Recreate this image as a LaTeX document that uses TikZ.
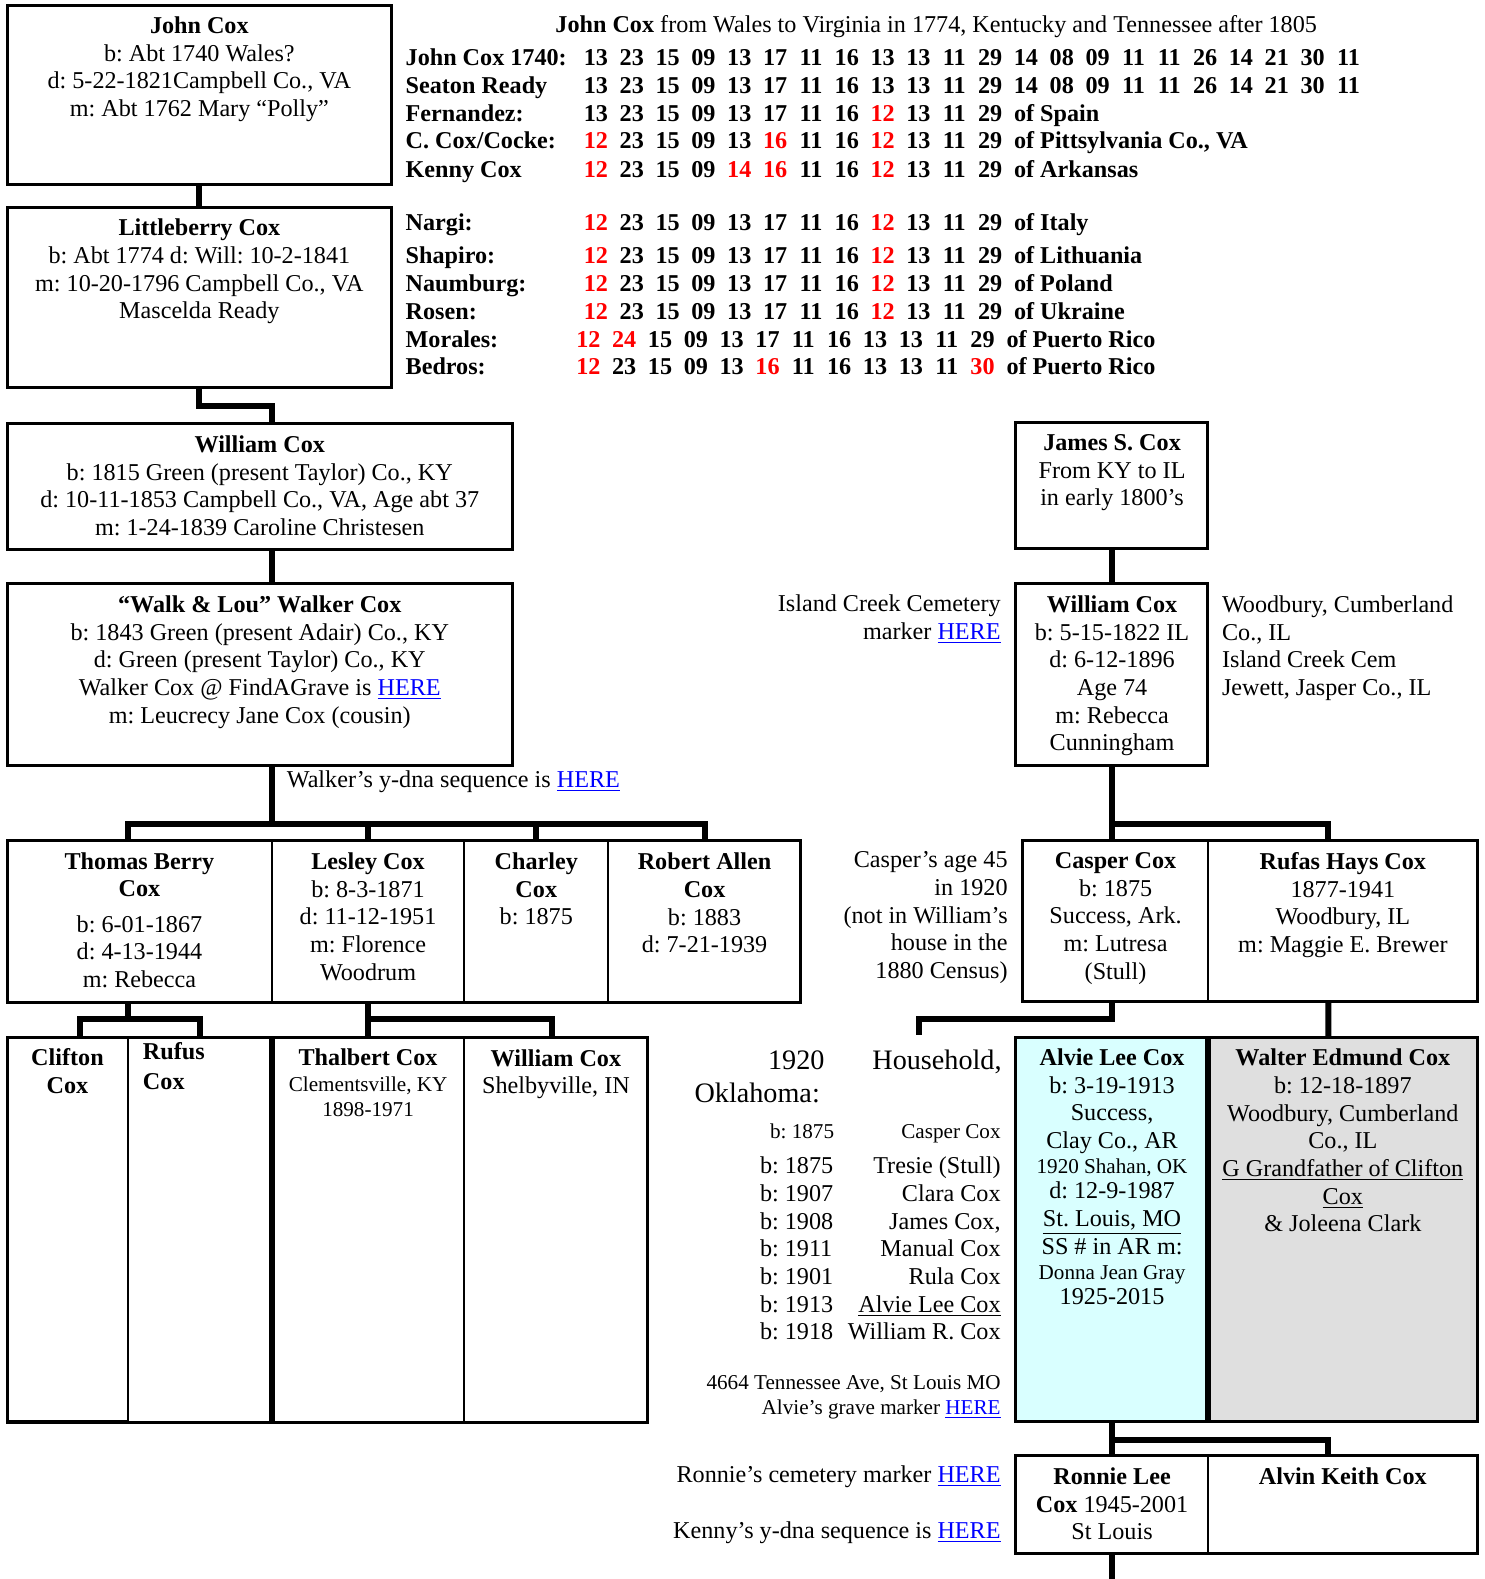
\documentclass[tikz,border=0pt]{standalone}
\usepackage{fontspec}
\setmainfont{Liberation Serif}
\definecolor{alviecyan}{HTML}{D9FFFF}
\definecolor{waltergray}{HTML}{DFDFDF}
\frenchspacing

\begin{document}
\begin{tikzpicture}[x=0.5pt,y=-0.5pt,scale=1.0066,
  every node/.style={transform shape,inner sep=0pt,outer sep=0pt,font=\fontsize{12}{13.75}\selectfont},
  box/.style={draw,line width=1.5pt,anchor=north west},
  cell/.style={draw,line width=1pt,anchor=north west},
  frame/.style={line width=1.5pt},
  link/.style={line width=3pt},
  who/.style={anchor=north,align=center},
  note/.style={anchor=base east,align=right},
  dna/.style={anchor=base west,font=\fontsize{12}{13.75}\selectfont\bfseries}]

\useasboundingbox (0,0) rectangle (1474.3,1568.6);

\newcommand{\here}{\textcolor{blue}{\underline{HERE}}}
\newcommand{\smallf}{\fontsize{10.5}{12.5}\selectfont}
\newcommand{\nn}[1]{\makebox[17.8pt]{#1}}
\newcommand{\rn}[1]{\makebox[17.8pt]{\color{red}#1}}

% y-dna table
\node[anchor=base] (title) at (930,32) {\textbf{John Cox} from Wales to Virginia in 1774, Kentucky and Tennessee after 1805};
\foreach \y/\x/\lab/\seq [count=\i] in {
  65/574.2/{John Cox 1740:}/{\nn{13}\nn{23}\nn{15}\nn{09}\nn{13}\nn{17}\nn{11}\nn{16}\nn{13}\nn{13}\nn{11}\nn{29}\nn{14}\nn{08}\nn{09}\nn{11}\nn{11}\nn{26}\nn{14}\nn{21}\nn{30}\nn{11}},
  93/574.2/{Seaton Ready}/{\nn{13}\nn{23}\nn{15}\nn{09}\nn{13}\nn{17}\nn{11}\nn{16}\nn{13}\nn{13}\nn{11}\nn{29}\nn{14}\nn{08}\nn{09}\nn{11}\nn{11}\nn{26}\nn{14}\nn{21}\nn{30}\nn{11}},
  121/574.2/{Fernandez:}/{\nn{13}\nn{23}\nn{15}\nn{09}\nn{13}\nn{17}\nn{11}\nn{16}\rn{12}\nn{13}\nn{11}\nn{29} of Spain},
  148/574.2/{C. Cox/Cocke:}/{\rn{12}\nn{23}\nn{15}\nn{09}\nn{13}\rn{16}\nn{11}\nn{16}\rn{12}\nn{13}\nn{11}\nn{29} of Pittsylvania Co., VA},
  176/574.2/{Kenny Cox}/{\rn{12}\nn{23}\nn{15}\nn{09}\rn{14}\rn{16}\nn{11}\nn{16}\rn{12}\nn{13}\nn{11}\nn{29} of Arkansas},
  229/574.2/{Nargi:}/{\rn{12}\nn{23}\nn{15}\nn{09}\nn{13}\nn{17}\nn{11}\nn{16}\rn{12}\nn{13}\nn{11}\nn{29} of Italy},
  262/574.2/{Shapiro:}/{\rn{12}\nn{23}\nn{15}\nn{09}\nn{13}\nn{17}\nn{11}\nn{16}\rn{12}\nn{13}\nn{11}\nn{29} of Lithuania},
  290/574.2/{Naumburg:}/{\rn{12}\nn{23}\nn{15}\nn{09}\nn{13}\nn{17}\nn{11}\nn{16}\rn{12}\nn{13}\nn{11}\nn{29} of Poland},
  317/574.2/{Rosen:}/{\rn{12}\nn{23}\nn{15}\nn{09}\nn{13}\nn{17}\nn{11}\nn{16}\rn{12}\nn{13}\nn{11}\nn{29} of Ukraine},
  345/566.7/{Morales:}/{\rn{12}\rn{24}\nn{15}\nn{09}\nn{13}\nn{17}\nn{11}\nn{16}\nn{13}\nn{13}\nn{11}\nn{29} of Puerto Rico},
  372/566.7/{Bedros:}/{\rn{12}\nn{23}\nn{15}\nn{09}\nn{13}\rn{16}\nn{11}\nn{16}\nn{13}\nn{13}\nn{11}\rn{30} of Puerto Rico}}
{
  \node[dna] (lab\i) at (403,\y) {\lab};
  \node[dna] (seq\i) at (\x,\y) {\seq};
}

% Cox line, left
\node[box,minimum width=191pt,minimum height=89pt] (jc) at (7,5) {};
\node[who] (jct) at ([yshift=-5.8pt]jc.north) {\textbf{John Cox}\\b: Abt 1740 Wales?\\d: 5-22-1821Campbell Co., VA\\m: Abt 1762 Mary “Polly”};
\node[box,minimum width=191pt,minimum height=89.5pt] (lc) at (7,206) {};
\node[who] (lct) at ([yshift=-5.8pt]lc.north) {\textbf{Littleberry Cox}\\b: Abt 1774 d: Will: 10-2-1841\\m: 10-20-1796 Campbell Co., VA\\Mascelda Ready};
\node[box,minimum width=251pt,minimum height=62.5pt] (wc) at (7,421) {};
\node[who] (wct) at ([yshift=-5.8pt]wc.north) {\textbf{William Cox}\\b: 1815 Green (present Taylor) Co., KY\\d: 10-11-1853 Campbell Co., VA, Age abt 37\\m: 1-24-1839 Caroline Christesen};
\node[box,minimum width=251pt,minimum height=90pt] (wk) at (7,580) {};
\node[who] (wkt) at ([yshift=-5.8pt]wk.north) {\textbf{“Walk \& Lou” Walker Cox}\\b: 1843 Green (present Adair) Co., KY\\d: Green (present Taylor) Co., KY\\Walker Cox @ FindAGrave is \here\\m: Leucrecy Jane Cox (cousin)};
\node[anchor=base west] (wkn) at (285,782) {Walker’s y-dna sequence is \here};

% children of Walker
\node[cell,minimum width=131.5pt,minimum height=80pt] (tb) at (7,835) {};
\node[cell,minimum width=95.5pt,minimum height=80pt] (ls) at (tb.north east) {};
\node[cell,minimum width=71.5pt,minimum height=80pt] (ch) at (ls.north east) {};
\node[cell,minimum width=95.5pt,minimum height=80pt] (ra) at (ch.north east) {};
\node[who] (tbt) at ([yshift=-5.8pt]tb.north) {\textbf{Thomas Berry}\\\textbf{Cox}\\[3.75pt]b: 6-01-1867\\d: 4-13-1944\\m: Rebecca};
\node[who] (lst) at ([yshift=-5.8pt]ls.north) {\textbf{Lesley Cox}\\b: 8-3-1871\\d: 11-12-1951\\m: Florence\\Woodrum};
\node[who] (cht) at ([yshift=-5.8pt]ch.north) {\textbf{Charley}\\\textbf{Cox}\\b: 1875};
\node[who] (rat) at ([yshift=-5.8pt]ra.north) {\textbf{Robert Allen}\\\textbf{Cox}\\b: 1883\\d: 7-21-1939};

% grandchildren
\node[cell,minimum width=60pt,minimum height=191pt] (cl) at (7,1030) {};
\node[cell,minimum width=71.5pt,minimum height=191pt] (rf) at (cl.north east) {};
\node[cell,minimum width=95.5pt,minimum height=191pt] (th) at (rf.north east) {};
\node[cell,minimum width=91pt,minimum height=191pt] (wm) at (th.north east) {};
\node[who] (clt) at ([yshift=-5.8pt]cl.north) {\textbf{Clifton}\\\textbf{Cox}};
\node[anchor=base west,align=left] (rft) at ([xshift=7.5pt,yshift=-26pt]rf.north west) {\textbf{Rufus}\\[1.25pt]\textbf{Cox}};
\node[who] (tht) at ([yshift=-5.8pt]th.north) {\textbf{Thalbert Cox}\\[-1.25pt]{\smallf Clementsville, KY}\\[-1.25pt]{\smallf 1898-1971}};
\node[who] (wmt) at ([yshift=-5.8pt]wm.north) {\textbf{William Cox}\\Shelbyville, IN};

% Cox line, right
\node[box,minimum width=95.5pt,minimum height=62.5pt] (js) at (1009,420) {};
\node[who] (jst) at ([yshift=-5.8pt]js.north) {\textbf{James S. Cox}\\From KY to IL\\in early 1800’s};
\node[box,minimum width=95.5pt,minimum height=90pt] (wr) at (1009,580) {};
\node[who] (wrt) at ([yshift=-5.8pt]wr.north) {\textbf{William Cox}\\b: 5-15-1822 IL\\d: 6-12-1896\\Age 74\\m: Rebecca\\Cunningham};
\node[note] (icn) at (994,635) {Island Creek Cemetery\\marker \here};
\node[anchor=base west,align=left] (wbn) at (1214,691) {Woodbury, Cumberland\\Co., IL\\Island Creek Cem\\Jewett, Jasper Co., IL};

\node[cell,minimum width=92pt,minimum height=80pt] (cp) at (1016,835) {};
\node[cell,minimum width=133.5pt,minimum height=80pt] (rh) at (cp.north east) {};
\node[who] (cpt) at ([yshift=-5.8pt]cp.north) {\textbf{Casper Cox}\\b: 1875\\Success, Ark.\\m: Lutresa\\(Stull)};
\node[who] (rht) at ([yshift=-5.8pt]rh.north) {\textbf{Rufas Hays Cox}\\1877-1941\\Woodbury, IL\\m: Maggie E. Brewer};
\node[note] (cpn) at (1001,972) {Casper’s age 45\\in 1920\\(not in William’s\\house in the\\1880 Census)};

\node[cell,fill=alviecyan,minimum width=95.5pt,minimum height=191pt] (al) at (1009,1030) {};
\node[cell,fill=waltergray,minimum width=133.5pt,minimum height=191pt] (we) at (al.north east) {};
\node[who] (alt) at ([yshift=-5.8pt]al.north) {\textbf{Alvie Lee Cox}\\b: 3-19-1913\\Success,\\Clay Co., AR\\[-1.25pt]{\smallf 1920 Shahan, OK}\\[-1.25pt]d: 12-9-1987\\\underline{St. Louis, MO}\\SS \# in AR m:\\[-1.25pt]{\smallf Donna Jean Gray}\\[-1.25pt]1925-2015};
\node[who] (wet) at ([yshift=-5.8pt]we.north) {\textbf{Walter Edmund Cox}\\b: 12-18-1897\\Woodbury, Cumberland\\Co., IL\\\underline{G Grandfather of Clifton}\\\underline{Cox}\\\& Joleena Clark};

% 1920 household
\node[anchor=base west,text width=152.5pt,align=left,font=\fontsize{14}{16.5}\selectfont] (hhd) at (690,1062) {\hspace*{36.5pt}1920\hfill Household,\\Oklahoma:};
\node[anchor=base west] (hhl) at (755,1131) {\begin{tabular*}{119.5pt}[t]{@{}l@{\extracolsep{\fill}}r@{}}
  \hspace*{5pt}{\smallf b: 1875} & {\smallf Casper Cox}\\[3.75pt]
  b: 1875 & Tresie (Stull)\\
  b: 1907 & Clara Cox\\
  b: 1908 & James Cox,\\
  b: 1911 & Manual Cox\\
  b: 1901 & Rula Cox\\
  b: 1913 & \underline{Alvie Lee Cox}\\
  b: 1918 & William R. Cox
\end{tabular*}};
\node[note,font=\smallf] (adn) at (994,1405) {4664 Tennessee Ave, St Louis MO\\Alvie’s grave marker \here};

\node[cell,minimum width=95.5pt,minimum height=48.5pt] (rl) at (1009,1446) {};
\node[cell,minimum width=133.5pt,minimum height=48.5pt] (ak) at (rl.north east) {};
\node[who] (rlt) at ([yshift=-5.8pt]rl.north) {\textbf{Ronnie Lee}\\\textbf{Cox} 1945-2001\\St Louis};
\node[who] (akt) at ([yshift=-5.8pt]ak.north) {\textbf{Alvin Keith Cox}};
\node[note] (rln) at (994,1473) {Ronnie’s cemetery marker \here};
\node[note] (kyn) at (994,1528) {Kenny’s y-dna sequence is \here};

% frames and heavy dividers
\foreach \a/\b in {tb/ra,cl/wm,cp/rh,al/we,rl/ak}
  \draw[frame] (\a.north west) rectangle (\b.south east);
\draw[link] (th.north west) -- (th.south west);
\draw[link] (we.north west) -- (we.south west);

% connectors
\draw[link] (jc.south) -- (lc.north);
\draw[link] (lc.south) -- ++(0,18) -| ([xshift=6pt]wc.north);
\draw[link] ([xshift=6pt]wc.south) -- ([xshift=6pt]wk.north);
\draw[link] ([xshift=6pt]wk.south) -- ++(0,58) coordinate (wkj);
\draw[link] ([xshift=-5.75pt]tb.north) |- (wkj) -| (ra.north);
\draw[link] (ls.north) -- (ls.north |- wkj);
\draw[link] (ch.north) -- (ch.north |- wkj);
\draw[link] ([xshift=-5.75pt]tb.south) -- ++(0,17) coordinate (tbj);
\draw[link] ([xshift=6pt]cl.north) |- (tbj) -| (rf.north);
\draw[link] (ls.south) -- ++(0,17) coordinate (lsj);
\draw[link] (th.north) |- (lsj) -| ([xshift=-2pt]wm.north);

\draw[link] (js.south) -- (wr.north);
\draw[link] (wr.south) -- ++(0,58) coordinate (wrj);
\draw[link] ([xshift=-2pt]cp.north) |- (wrj) -| ([xshift=-7.25pt]rh.north);
\coordinate (hhj) at (913,1028);
\draw[link] ([xshift=-2pt]cp.south) -- ++(0,17) -| (hhj);
\draw[link] ([xshift=-7.25pt]rh.south) -- ([xshift=-7.25pt]we.north);
\draw[link] (al.south) -- ++(0,18) coordinate (alj);
\draw[link] (rl.north) |- (alj) -| ([xshift=-7.25pt]ak.north);
\draw[link] (rl.south) -- ++(0,40);
\end{tikzpicture}
\end{document}
